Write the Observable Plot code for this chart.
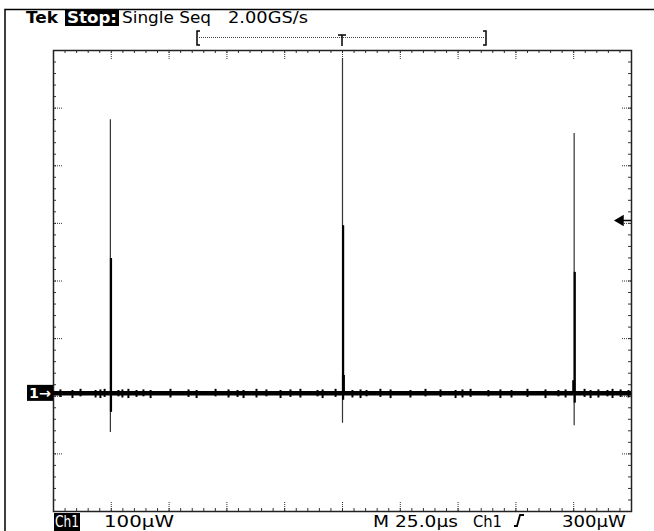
<!DOCTYPE html>
<html><head><meta charset="utf-8">
<script src="https://cdn.jsdelivr.net/npm/d3@7"></script>
<script src="https://cdn.jsdelivr.net/npm/@observablehq/plot@0.6"></script>
<style>body{margin:0;background:#fff} svg{display:block}</style>
</head><body><div id="chart"></div>
<script>
// ---- data (time in µs, power in µW relative to ground marker) ----
const xDomain = [0, 250];            // 10 div × 25 µs
const yDomain = [-205, 595];         // 8 div × 100 µW
const spikeTime   = [24.6, 125.0, 225.2];
const spikeMax    = [475, 581, 451];
const spikeMin    = [-68, -52, -56];
const spikeEnvHi  = [234, 291, 210];
const spikeEnvLo  = [-33, -12, -17];
const bumpTime = [125.4, 225.0];
const bumpHi   = [31, 22];
const noiseTime = [3.0, 8.2, 11.7, 18.2, 20.3, 22.1, 28.1, 29.8, 32.4, 35.9, 38.9, 42.0, 50.6, 58.4, 61.9, 70.1, 75.7, 79.6, 82.2, 87.8, 92.1, 98.2, 102.5, 106.8, 114.2, 116.4, 122.0, 129.3, 132.8, 135.4, 141.4, 145.8, 154.4, 160.9, 167.4, 173.9, 176.9, 180.4, 188.1, 193.3, 198.1, 205.0, 212.8, 218.4, 221.5, 229.7, 232.3, 235.7, 239.6, 241.8, 245.3, 248.7];
const noiseLo   = [-7, -9, -6, -8, -9, -7, -6, -8, -9, -7, -6, -9, -8, -7, -9, -6, -8, -7, -9, -8, -6, -9, -7, -8, -6, -9, -7, -8, -9, -6, -7, -9, -8, -6, -7, -9, -8, -7, -6, -9, -8, -7, -9, -6, -8, -7, -9, -8, -6, -9, -7, -8];
const noiseHi   = [6, 5, 7, 5, 6, 7, 5, 6, 7, 5, 6, 5, 7, 6, 5, 7, 6, 5, 5, 7, 6, 5, 6, 7, 5, 6, 7, 5, 6, 5, 7, 6, 5, 7, 6, 5, 6, 7, 5, 6, 5, 7, 6, 5, 6, 7, 5, 6, 5, 7, 6, 5];
const triggerLevel = 300;
const minorX = d3.range(0, 250.01, 5);
const majorX = d3.range(0, 250.01, 25);
const minorY = d3.range(0, 41).map(k => yDomain[0] + 20 * k);
const majorY = d3.range(0, 9).map(k => yDomain[0] + 100 * k);

const spikes = spikeTime.map((t, i) => ({t, max: spikeMax[i], min: spikeMin[i], hi: spikeEnvHi[i], lo: spikeEnvLo[i]}));
const bumps = bumpTime.map((t, i) => ({t, hi: bumpHi[i]}));
const noise = noiseTime.map((t, i) => ({t, lo: noiseLo[i], hi: noiseHi[i]}));

const W = 654, H = 531, mL = 53, mR = 23, mT = 50, mB = 20;
const pw = W - mL - mR, ph = H - mT - mB;
const FONT = "'DejaVu Sans', 'Liberation Sans', sans-serif";

const plot = Plot.plot({
  width: W, height: H,
  marginLeft: mL, marginRight: mR, marginTop: mT, marginBottom: mB,
  x: {domain: xDomain, axis: null},
  y: {domain: yDomain, axis: null},
  style: {background: "white", fontFamily: FONT},
  marks: [
    Plot.tickX(minorX, {x: d => d, insetBottom: ph - 3, stroke: "#333"}),
    Plot.tickX(minorX, {x: d => d, insetTop: ph - 3, stroke: "#333"}),
    Plot.tickX(majorX, {x: d => d, insetBottom: ph - 9, stroke: "#333", strokeDasharray: "1,1"}),
    Plot.tickX(majorX, {x: d => d, insetTop: ph - 9, stroke: "#333", strokeDasharray: "1,1"}),
    Plot.tickY(minorY, {y: d => d, insetRight: pw - 3, stroke: "#333"}),
    Plot.tickY(minorY, {y: d => d, insetLeft: pw - 3, stroke: "#333"}),
    Plot.tickY(majorY, {y: d => d, insetRight: pw - 9, stroke: "#333", strokeDasharray: "1,1"}),
    Plot.tickY(majorY, {y: d => d, insetLeft: pw - 9, stroke: "#333", strokeDasharray: "1,1"}),
    Plot.frame({stroke: "#222", strokeWidth: 1.5}),
    Plot.ruleY([0], {stroke: "black", strokeWidth: 4.5}),
    Plot.ruleX(noise, {x: "t", y1: "lo", y2: "hi", stroke: "black", strokeWidth: 2}),
    Plot.ruleX(spikes, {x: "t", y1: "min", y2: "max", stroke: "#333", strokeWidth: 1.2}),
    Plot.ruleX(spikes, {x: "t", y1: "lo", y2: "hi", stroke: "black", strokeWidth: 2.2, dx: 0.6}),
    Plot.ruleX(bumps, {x: "t", y1: 0, y2: "hi", stroke: "black", strokeWidth: 3}),
    Plot.tickY([triggerLevel], {y: d => d, insetLeft: pw - 9, stroke: "black", strokeWidth: 1.5}),
    Plot.dot([triggerLevel], {y: d => d, frameAnchor: "right", dx: -11, symbol: "triangle", rotate: -90, r: 4.2, fill: "black", stroke: "none"})
  ]
});
document.getElementById("chart").appendChild(plot);

const svg = d3.select(plot);
const yS = plot.scale("y"), xS = plot.scale("x");
const g = svg.append("g").attr("font-family", FONT).attr("font-size", 16).attr("text-anchor", "start");

// outer screen border
g.append("path").attr("d", `M5,${H} V9.5 H${W}`).attr("fill", "none").attr("stroke", "black").attr("stroke-width", 1.5);

function txt(s, x, y, len, opts = {}) {
  const t = g.append("text").attr("x", x).attr("y", y).text(s)
    .attr("text-anchor", "start")
    .attr("fill", opts.fill || "black")
    .attr("font-weight", opts.bold ? "bold" : "normal");
  if (opts.size) t.attr("font-size", opts.size);
  if (len) t.attr("textLength", len).attr("lengthAdjust", "spacingAndGlyphs");
  return t;
}
// header
txt("Tek", 26, 23, 32, {bold: true});
g.append("rect").attr("x", 65).attr("y", 10).attr("width", 54).attr("height", 16).attr("fill", "black");
txt("Stop:", 67, 23, 50, {bold: true, fill: "white"});
txt("Single Seq", 122, 23, 89);
txt("2.00GS/s", 228, 23, 80);

// trigger position bracket
const xT = xS.apply(125);
g.append("path").attr("d", "M200,31 H197 V45 H200").attr("fill", "none").attr("stroke", "black").attr("stroke-width", 1.5);
g.append("path").attr("d", "M483,31 H486 V45 H483").attr("fill", "none").attr("stroke", "black").attr("stroke-width", 1.5);
g.append("line").attr("x1", 199).attr("x2", 484).attr("y1", 37.5).attr("y2", 37.5).attr("stroke", "#444").attr("stroke-dasharray", "1,1");
g.append("path").attr("d", `M${xT - 4},35 H${xT + 4} M${xT},35 V46`).attr("fill", "none").attr("stroke", "black").attr("stroke-width", 1.5);

// ground marker
const y0 = yS.apply(0);
g.append("rect").attr("x", 27).attr("y", y0 - 8).attr("width", 26).attr("height", 16).attr("fill", "black");
txt("1→", 29, y0 + 5, 22, {bold: true, fill: "white", size: 14});

// footer
g.append("rect").attr("x", 54).attr("y", 513).attr("width", 26).attr("height", 18).attr("fill", "black");
const FS = 15;
txt("Ch1", 55, 526.5, 24, {fill: "white", size: FS});
txt("100µW", 104, 526.5, 70, {size: FS});
txt("M 25.0µs", 373, 526.5, 85, {size: FS});
txt("Ch1", 473, 526.5, 29, {size: FS});
g.append("path").attr("d", "M514,526 H517 L520,515 H524").attr("fill", "none").attr("stroke", "black").attr("stroke-width", 1.8);
txt("300µW", 562, 526.5, 64, {size: FS});
</script></body></html>
